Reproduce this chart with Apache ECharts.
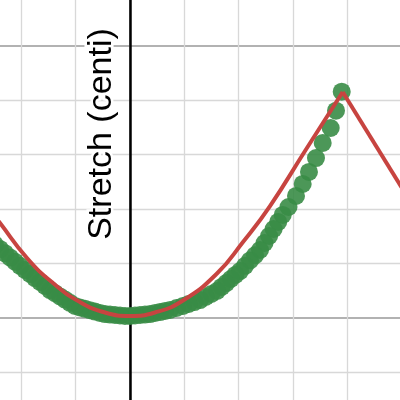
<!DOCTYPE html>
<html><head><meta charset="utf-8">
<script src="https://cdn.jsdelivr.net/npm/echarts@6/dist/echarts.min.js"></script>
<style>html,body{margin:0;padding:0;background:#fff}#c{width:400px;height:400px}</style>
</head><body><div id="c"></div>
<script>
const axisTitle = 'Stretch (centi)';
// measured points (green)
const pointX = [3.899,3.794,3.696,3.549,3.425,3.296,3.180,3.057,2.919,2.812,2.729,2.645,2.562,2.477,2.394,2.302,2.210,2.118,2.026,1.941,1.856,1.772,1.687,1.602,1.497,1.394,1.289,1.184,1.081,0.976,0.856,0.737,0.645,0.552,0.460,0.368,0.276,0.184,0.092,0,-0.092,-0.184,-0.276,-0.368,-0.460,-0.552,-0.645,-0.737,-0.829,-0.921,-1.013,-1.105,-1.197,-1.289,-1.381,-1.473,-1.565,-1.657,-1.750,-1.842,-1.934,-2.026,-2.118,-2.210,-2.302,-2.394,-2.486,-2.578];
const pointY = [9.158,8.808,8.490,8.214,7.937,7.680,7.459,7.238,7.035,6.888,6.759,6.630,6.501,6.372,6.243,6.145,6.050,5.952,5.856,5.783,5.709,5.635,5.562,5.488,5.433,5.378,5.322,5.285,5.249,5.212,5.175,5.138,5.120,5.101,5.083,5.064,5.055,5.046,5.037,5.028,5.028,5.037,5.046,5.055,5.064,5.083,5.109,5.134,5.160,5.186,5.212,5.271,5.330,5.389,5.448,5.506,5.580,5.654,5.727,5.801,5.875,5.952,6.029,6.107,6.184,6.262,6.339,6.418];
// model curve (red), rising part up to the peak
const curveX = [-2.505,-2.394,-1.897,-1.418,-0.921,-0.460,0,0.460,0.976,1.602,2.081,2.578,3.223,3.917];
const curveY = [6.888,6.740,6.096,5.635,5.285,5.092,5.028,5.092,5.313,5.811,6.391,7.053,8.066,9.153];
// model curve (red), falling part after the peak
const fallX = [3.917,5.0];
const fallY = [9.153,7.398];

const zip = (a,b)=>a.map((v,i)=>[v,b[i]]);
const chart = echarts.init(document.getElementById('c'), null, {renderer:'canvas'});
const U = 54.3;
const axisCommon = {
  type:'value', interval:5,
  axisLabel:{show:false}, axisTick:{show:false},
  splitLine:{show:true, lineStyle:{color:'#999', width:1.5}},
  minorTick:{show:false, splitNumber:5},
  minorSplitLine:{show:true, lineStyle:{color:'#d8d8d8', width:1.3}}
};
chart.setOption({
  animation:false,
  backgroundColor:'#fff',
  grid:{left:130-5*U, top:317.5-6*U, width:10*U, height:11*U, containLabel:false, outerBoundsMode:'none'},
  xAxis:Object.assign({}, axisCommon, {min:-5, max:5, axisLine:{show:false}}),
  yAxis:Object.assign({}, axisCommon, {min:0, max:11, axisLine:{show:true, onZero:true, lineStyle:{color:'#000', width:2.5}}}),
  series:[
    {type:'scatter', data:zip(pointX,pointY), symbolSize:18, z:3,
     itemStyle:{color:'#388c46', opacity:0.9}},
    {type:'line', data:zip(curveX,curveY), smooth:true, symbol:'none', z:4,
     lineStyle:{color:'#c74440', width:4}},
    {type:'line', data:zip(fallX,fallY), symbol:'none', z:4,
     lineStyle:{color:'#c74440', width:4}}
  ],
  graphic:[{type:'text', x:101.5, y:134, rotation:Math.PI/2, z:10,
    style:{text:axisTitle, font:'34px "Liberation Sans", Arial, sans-serif', fill:'#000',
      stroke:'#fff', lineWidth:5, textAlign:'center', textVerticalAlign:'middle'}}]
});
</script>
</body></html>
